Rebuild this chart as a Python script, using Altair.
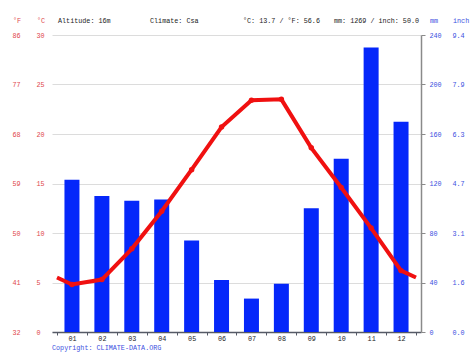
import altair as alt
import pandas as pd

months = ["01", "02", "03", "04", "05", "06", "07", "08", "09", "10", "11", "12"]
month_idx = list(range(1, 13))
precip_mm = [123, 110, 106, 107, 74, 42, 27, 39, 100, 140, 230, 170]
temp_c = [4.8, 5.3, 8.4, 12.2, 16.4, 20.7, 23.4, 23.5, 18.6, 14.6, 10.5, 6.2]
ticks_c = [0, 5, 10, 15, 20, 25, 30]
ticks_mm = [0, 40, 80, 120, 160, 200, 240]
x_ticks = [i / 2 for i in range(1, 26)]

header_left = ["°F", "°C"]
header_info = ["Altitude: 16m", "Climate: Csa", "°C: 13.7 / °F: 56.6", "mm: 1269 / inch: 50.0"]
header_right = ["mm", "inch"]
copyright_text = "Copyright: CLIMATE-DATA.ORG"

FONT = "Liberation Mono"
FS = 6.75
RED = "#e0474c"
BLUE = "#3b4fe0"
BAR = "#0527fa"
LINE = "#f01010"

edge = (temp_c[0] + temp_c[-1]) / 2
line_df = pd.DataFrame({"m": [0.5] + month_idx + [12.5], "t": [edge] + temp_c + [edge]})
pt_df = pd.DataFrame({"m": month_idx, "t": temp_c})
bar_df = pd.DataFrame({"m": month_idx, "label": months, "mm": precip_mm})

x_scale = alt.Scale(domain=[0.5, 12.5], nice=False, zero=False)
x_axis = alt.Axis(
    values=x_ticks,
    labelExpr="datum.value % 1 == 0 ? (datum.value < 10 ? '0' + datum.value : '' + datum.value) : ''",
    tickOpacity={"condition": {"test": "datum.value % 1 != 0", "value": 1}, "value": 0},
    tickSize=3, tickColor="#555a66", domainColor="#555a66", domainWidth=1.5,
    labelFont=FONT, labelFontSize=FS, labelColor="#222222", labelPadding=0,
    grid=False, title=None, labelFlush=False, labelOverlap=False,
)
x_enc = alt.X("m:Q", scale=x_scale, axis=x_axis)

mm_scale = alt.Scale(domain=[0, 240], nice=False, zero=True)
c_scale = alt.Scale(domain=[0, 30], nice=False, zero=True)

bars = alt.Chart(bar_df).mark_bar(width=15, color=BAR).encode(
    x=x_enc,
    y=alt.Y("mm:Q", scale=mm_scale, axis=alt.Axis(
        orient="right", values=ticks_mm, tickSize=4, tickColor="#8a8a8a",
        domainColor="#8a8a8a", domainWidth=1.5, labelColor=BLUE, labelFont=FONT,
        labelFontSize=FS, labelPadding=4, labelAlign="left", grid=False, title=None)),
)

inch = alt.Chart(bar_df).mark_bar(width=15, opacity=0).encode(
    x=x_enc,
    y=alt.Y("mm:Q", scale=mm_scale, axis=alt.Axis(
        orient="right", values=ticks_mm, ticks=False, tickSize=0, domain=False,
        labelExpr="format(datum.value / 25.4, '.1f')", labelColor=BLUE, labelFont=FONT,
        labelFontSize=FS, labelPadding=31, labelAlign="left", grid=False, title=None)),
)

line = alt.Chart(line_df).mark_line(color=LINE, strokeWidth=4).encode(
    x=x_enc,
    y=alt.Y("t:Q", scale=c_scale, axis=alt.Axis(
        orient="left", values=ticks_c, ticks=False, tickSize=0, domain=False,
        grid=True, gridColor="#dcdcdc", gridWidth=1,
        labelColor=RED, labelFont=FONT, labelFontSize=FS, labelPadding=16,
        labelAlign="left", title=None)),
)

points = alt.Chart(pt_df).mark_circle(color=LINE, size=30, opacity=1).encode(
    x=x_enc,
    y=alt.Y("t:Q", scale=c_scale, axis=alt.Axis(
        orient="left", values=ticks_c, ticks=False, tickSize=0, domain=False,
        grid=False, labelExpr="format(datum.value * 1.8 + 32, 'd')",
        labelColor=RED, labelFont=FONT, labelFontSize=FS, labelPadding=40,
        labelAlign="left", title=None)),
)

def txt(s, x, y, color, align="left"):
    return alt.Chart(pd.DataFrame({"s": [s]})).mark_text(
        font=FONT, fontSize=FS, color=color, align=align, baseline="middle"
    ).encode(text="s:N", x=alt.value(x), y=alt.value(y))

texts = [
    txt(header_left[0], -39, -14, RED),
    txt(header_left[1], -15, -14, RED),
    txt(header_info[0], 6, -14, "#222222"),
    txt(header_info[1], 98, -14, "#222222"),
    txt(header_info[2], 191, -14, "#222222"),
    txt(header_info[3], 282, -14, "#222222"),
    txt(header_right[0], 378, -14, BLUE),
    txt(header_right[1], 401, -14, BLUE),
    txt(copyright_text, 0, 313, BLUE),
]

chart = alt.layer(bars, inch, line, points, *texts).resolve_scale(
    y="independent"
).properties(
    width=369, height=297,
    padding={"left": 52, "top": 35, "right": 53, "bottom": 23},
    autosize=alt.AutoSizeParams(type="none"),
    background="white",
).configure_view(stroke=None)

chart.save("out.html", embed_options={"renderer": "svg", "actions": False})
